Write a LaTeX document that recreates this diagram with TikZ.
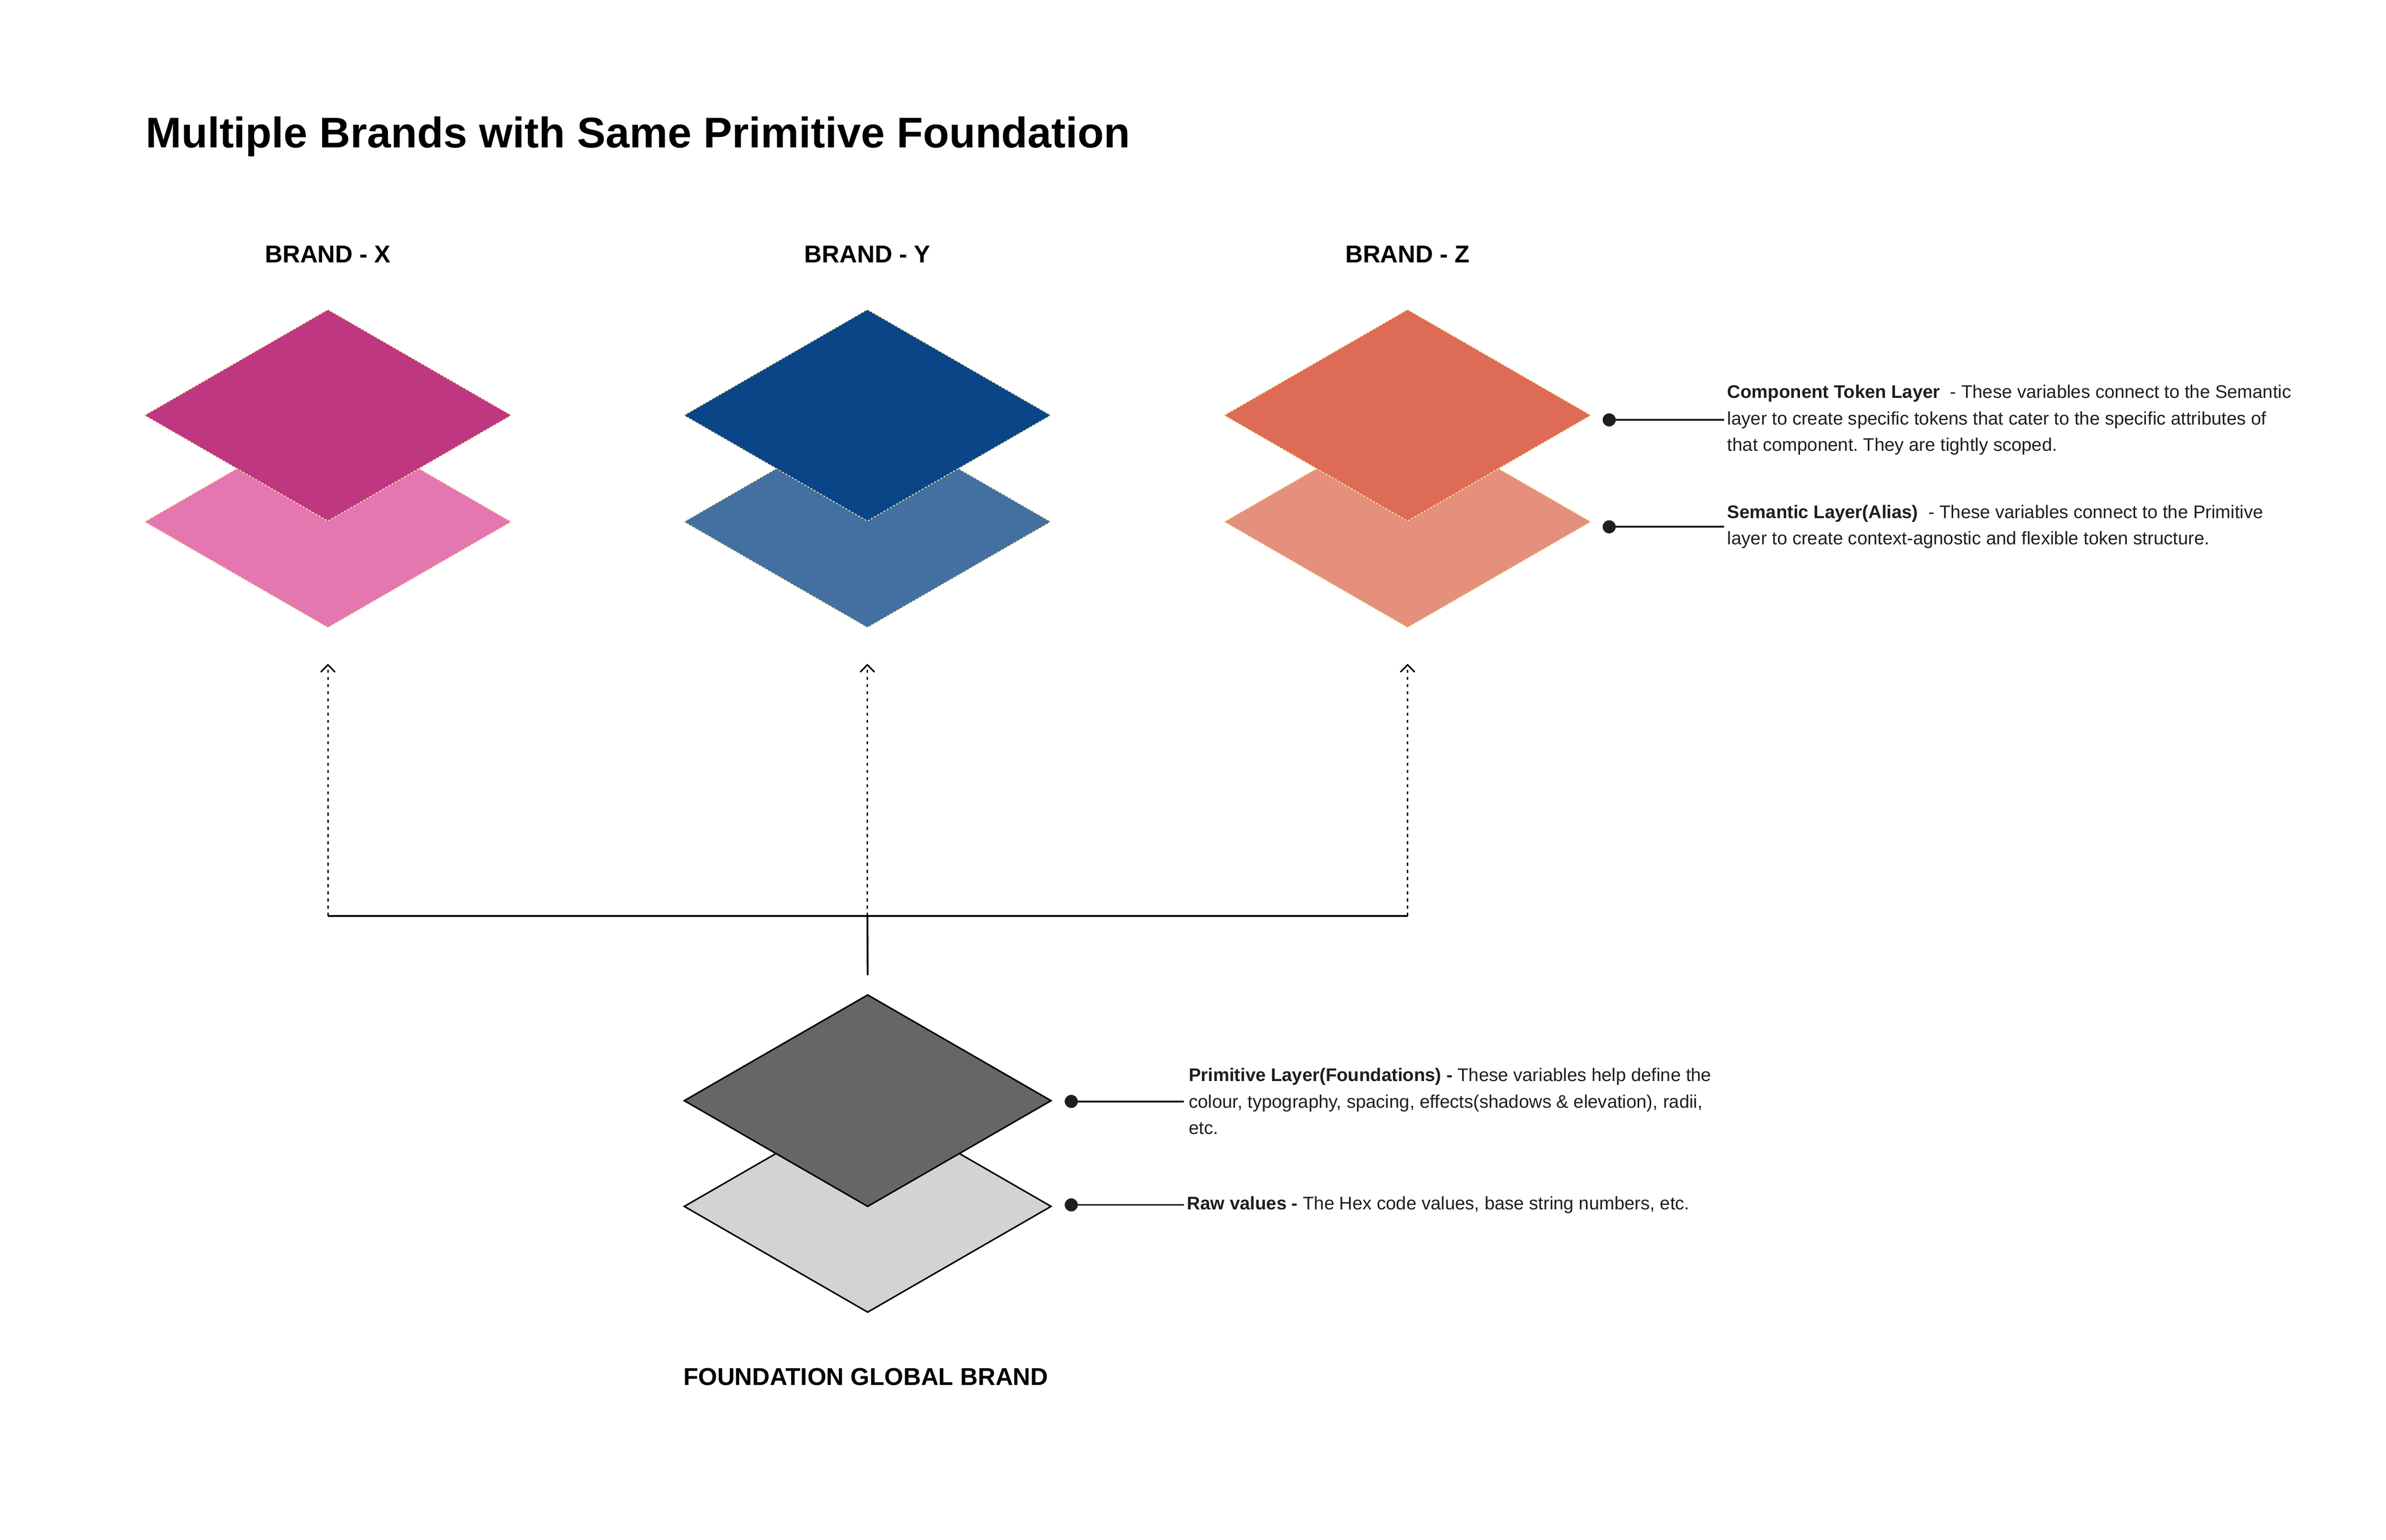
\documentclass[tikz,border=0pt]{standalone}
\usepackage{fontspec}
\setmainfont{Liberation Sans}
\usepackage{tikz}
\usetikzlibrary{shapes.geometric,arrows.meta}
\usepackage{xcolor}
\definecolor{xtop}{HTML}{BE3780}
\definecolor{xlow}{HTML}{E476B0}
\definecolor{ytop}{HTML}{0A4587}
\definecolor{ylow}{HTML}{436FA1}
\definecolor{ztop}{HTML}{DE6B55}
\definecolor{zlow}{HTML}{E4907D}
\definecolor{fndtop}{HTML}{666666}
\definecolor{fndlow}{HTML}{D3D3D3}
\definecolor{edge}{HTML}{FFF3A6}
\definecolor{ink}{HTML}{1E1E1E}
\frenchspacing

\begin{document}
\begin{tikzpicture}[x=1pt,y=-1pt,
  brandlayer/.style={diamond, draw=edge, dash pattern=on 1.2pt off 1.2pt, line width=0.6pt, fill=#1, minimum width=241pt, minimum height=139pt, inner sep=0pt, outer sep=0pt},
  fndlayer/.style={diamond, draw=black, line width=1pt, fill=#1, minimum width=241pt, minimum height=139pt, inner sep=0pt, outer sep=0pt},
  brandname/.style={font=\bfseries\fontsize{16}{19}\selectfont, inner sep=0pt},
  notetext/.style={anchor=west, align=left, inner sep=0pt, text=ink, font=\fontsize{12}{17.4}\selectfont},
  pinline/.style={draw=ink, line width=1.2pt},
  pindot/.style={circle, fill=ink, inner sep=0pt, minimum size=8.6pt},
  feedline/.style={draw, line width=1pt, dash pattern=on 2pt off 2.7pt, -{Straight Barb[round,length=4.6pt,width=9pt]}}]
  \path[use as bounding box, fill=white] (0,0) rectangle (1568,1012);

  \node[anchor=base west, inner sep=0pt, font=\bfseries\fontsize{28.2}{32}\selectfont] (title) at (95.5,97) {Multiple Brands with Same Primitive Foundation};

  % brands
  \node[brandname] (xname) at (215.5,167) {BRAND - X};
  \node[brandname] (yname) at (570,167) {BRAND - Y};
  \node[brandname] (zname) at (925,167) {BRAND - Z};
  \node[brandlayer=xlow] (xsem) at (215.5,343) {};
  \node[brandlayer=xtop] (xcomp) at (215.5,273) {};
  \node[brandlayer=ylow] (ysem) at (570,343) {};
  \node[brandlayer=ytop] (ycomp) at (570,273) {};
  \node[brandlayer=zlow] (zsem) at (925,343) {};
  \node[brandlayer=ztop] (zcomp) at (925,273) {};

  % foundation
  \node[fndlayer=fndlow] (raw) at (570.2,793) {};
  \node[fndlayer=fndtop] (prim) at (570.2,723.5) {};
  \node[brandname] (fndname) at (569,905) {FOUNDATION GLOBAL BRAND};

  % links
  \coordinate (xfoot) at (215.5,602);
  \coordinate (joint) at (570,602);
  \coordinate (zfoot) at (925,602);
  \draw[line width=1.2pt] (xfoot) -- (zfoot);
  \draw[line width=1.2pt] (joint) -- ([yshift=13pt]prim.north);
  \draw[feedline] (xfoot) -- ([yshift=-24pt]xsem.south);
  \draw[feedline] (joint) -- ([yshift=-24pt]ysem.south);
  \draw[feedline] (zfoot) -- ([yshift=-24pt]zsem.south);

  % notes
  \node[pindot] (compdot) at (1057.5,276) {};
  \node[notetext] (compnote) at (1135,276) {\textbf{Component Token Layer}\ \ - These variables connect to the Semantic\\layer to create specific tokens that cater to the specific attributes of\\that component. They are tightly scoped.};
  \draw[pinline] (compdot.center) -- ([xshift=-2pt]compnote.west);
  \node[pindot] (semdot) at (1057.5,346.3) {};
  \node[notetext] (semnote) at (1135,346.3) {\textbf{Semantic Layer(Alias)}\ \ - These variables connect to the Primitive\\layer to create context-agnostic and flexible token structure.};
  \draw[pinline] (semdot.center) -- ([xshift=-2pt]semnote.west);
  \node[pindot] (primdot) at (704,724) {};
  \node[notetext] (primnote) at (781,724) {\textbf{Primitive Layer(Foundations) -} These variables help define the\\colour, typography, spacing, effects(shadows \& elevation), radii,\\etc.};
  \draw[pinline] (primdot.center) -- ([xshift=-3pt]primnote.west);
  \node[pindot] (rawdot) at (704,792) {};
  \node[notetext] (rawnote) at (780,792) {\textbf{Raw values -} The Hex code values, base string numbers, etc.};
  \draw[pinline] (rawdot.center) -- ([xshift=-2pt]rawnote.west);
\end{tikzpicture}
\end{document}
